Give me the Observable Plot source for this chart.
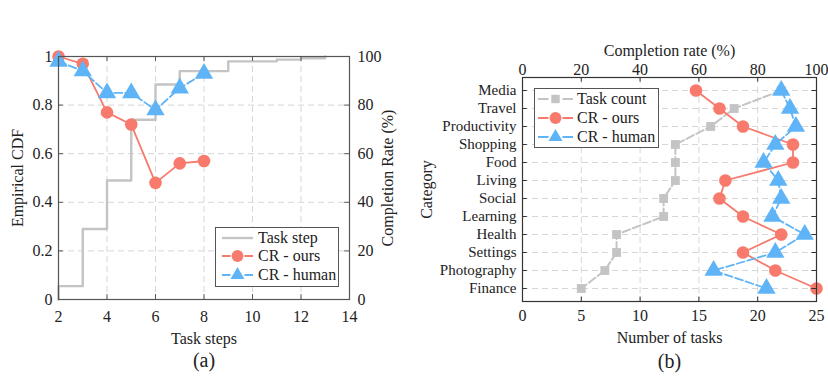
<!DOCTYPE html>
<html><head><meta charset="utf-8">
<script src="https://cdn.jsdelivr.net/npm/d3@7"></script>
<script src="https://cdn.jsdelivr.net/npm/@observablehq/plot@0.6"></script>
<style>
body{margin:0;background:#fff;}
#wrap{position:relative;width:828px;height:376px;overflow:hidden;background:#fff;font-family:"Liberation Serif","Times New Roman",serif;}
.panel{position:absolute;top:0;}
.overlay{position:absolute;left:0;top:0;pointer-events:none;}
</style></head><body><div id="wrap"></div>
<script>
// ---------- Panel (a) data ----------
const steps = [2, 3, 4, 5, 6, 7, 8];
const crOursSteps = [100, 97, 77, 72, 48, 56, 57];
const crHumanSteps = [98, 94, 85, 85, 78, 87, 93];
const cdfX = [2, 2, 3, 4, 5, 6, 7, 9, 11, 12, 13];
const cdfY = [0, 0.055, 0.29, 0.49, 0.74, 0.885, 0.94, 0.98, 0.987, 0.993, 1.0];
const xTicksA = [2, 4, 6, 8, 10, 12, 14];
const yTicksA = [0, 0.2, 0.4, 0.6, 0.8, 1];
const yTicksRightA = [0, 20, 40, 60, 80, 100];

// ---------- Panel (b) data ----------
const categories = ["Media", "Travel", "Productivity", "Shopping", "Food", "Living", "Social", "Learning", "Health", "Settings", "Photography", "Finance"];
const taskCount = [22, 18, 16, 13, 13, 13, 12, 12, 8, 8, 7, 5];
const crOurs = [59, 67, 75, 92, 92, 69, 67, 75, 88, 75, 86, 100];
const crHuman = [88, 91, 93, 86, 82, 87, 88, 85, 96, 86, 65, 83];
const countTicks = [0, 5, 10, 15, 20, 25];
const rateTicks = [0, 20, 40, 60, 80, 100];

const red = "#f77a6c", blue = "#5fb4f7", gray = "#c4c4c4";
const gridStyle = {stroke: "#d6d6d6", strokeOpacity: 1, strokeDasharray: "6,4", strokeWidth: 1};
const font = "Liberation Serif, Times New Roman, serif";
const lbl = {fontSize: 16, fill: "#222", textAnchor: "middle", lineAnchor: "middle"};

const wrap = document.getElementById("wrap");

// ---------- Panel (a) ----------
const stepData = cdfX.map((x, i) => ({x, y: cdfY[i]}));
const oursA = steps.map((s, i) => ({x: s, y: crOursSteps[i] / 100}));
const humanA = steps.map((s, i) => ({x: s, y: crHumanSteps[i] / 100}));

const left = Plot.plot({
  width: 410, height: 376,
  marginLeft: 58, marginRight: 61, marginTop: 56, marginBottom: 77,
  style: {fontFamily: font, fontSize: "16px", color: "#222", background: "transparent", overflow: "visible"},
  x: {domain: [2, 14]},
  y: {domain: [0, 1]},
  marks: [
    Plot.gridX(xTicksA.slice(1, -1), gridStyle),
    Plot.gridY(yTicksA.slice(1, -1), gridStyle),
    Plot.line(stepData, {x: "x", y: "y", curve: "step-after", stroke: gray, strokeWidth: 2.4}),
    Plot.line(oursA, {x: "x", y: "y", stroke: red, strokeWidth: 1.8}),
    Plot.dot(oursA, {x: "x", y: "y", r: 6.3, fill: red, symbol: "circle"}),
    Plot.line(humanA, {x: "x", y: "y", stroke: blue, strokeWidth: 1.8, strokeDasharray: "8,3"}),
    Plot.dot(humanA, {x: "x", y: "y", r: 6.8, fill: blue, symbol: "triangle"}),
    Plot.frame({stroke: "#555", strokeWidth: 1.2}),
    Plot.ruleX(xTicksA, {x: d => d, y1: 0, y2: 0.02, stroke: "#555"}),
    Plot.ruleX(xTicksA, {x: d => d, y1: 1, y2: 0.98, stroke: "#555"}),
    Plot.ruleY(yTicksA, {y: d => d, x1: 2, x2: 2.2, stroke: "#555"}),
    Plot.ruleY(yTicksA, {y: d => d, x1: 14, x2: 13.8, stroke: "#555"}),
    Plot.axisX(xTicksA, {tickSize: 0, tickPadding: 11, label: null, fill: "#222"}),
    Plot.axisY(yTicksA, {tickSize: 0, tickPadding: 6, label: null, tickFormat: d => String(d), fill: "#222"}),
    Plot.axisY(yTicksA, {anchor: "right", tickSize: 0, tickPadding: 8, label: null, tickFormat: (d, i) => String(yTicksRightA[i]), fill: "#222"}),
    Plot.text(["Task steps"], {...lbl, frameAnchor: "bottom", dy: 39}),
    Plot.text(["(a)"], {...lbl, frameAnchor: "bottom", dy: 61, fontSize: 20}),
    Plot.text(["Empirical CDF"], {...lbl, frameAnchor: "left", dx: -41, rotate: -90}),
    Plot.text(["Completion Rate (%)"], {...lbl, frameAnchor: "right", dx: 38, rotate: -90})
  ]
});
left.classList.add("panel");
left.style.left = "0px";
wrap.appendChild(left);

// ---------- Panel (b) ----------
const rightData = categories.map((c, i) => ({c, n: taskCount[i], ours: crOurs[i], human: crHuman[i]}));
const frameH = 376 - 77 - 75;
const right = Plot.plot({
  width: 418, height: 376,
  marginLeft: 112, marginRight: 12, marginTop: 77, marginBottom: 75,
  style: {fontFamily: font, fontSize: "16px", color: "#222", background: "transparent", overflow: "visible"},
  x: {domain: [0, 25]},
  y: {type: "point", domain: categories, padding: 0.5},
  marks: [
    Plot.gridX(countTicks.slice(1, -1), gridStyle),
    Plot.gridY(categories, gridStyle),
    Plot.line(rightData, {x: "n", y: "c", stroke: gray, strokeWidth: 2, strokeDasharray: "8,3"}),
    Plot.dot(rightData, {x: "n", y: "c", r: 5, fill: gray, symbol: "square"}),
    Plot.line(rightData, {x: d => d.ours / 4, y: "c", stroke: red, strokeWidth: 1.8}),
    Plot.dot(rightData, {x: d => d.ours / 4, y: "c", r: 6.3, fill: red, symbol: "circle"}),
    Plot.line(rightData, {x: d => d.human / 4, y: "c", stroke: blue, strokeWidth: 1.8, strokeDasharray: "8,3"}),
    Plot.dot(rightData, {x: d => d.human / 4, y: "c", r: 6.8, fill: blue, symbol: "triangle"}),
    Plot.frame({stroke: "#333", strokeWidth: 1.2}),
    Plot.ruleX(countTicks, {x: d => d, insetTop: frameH - 4.5, stroke: "#333"}),
    Plot.ruleX(countTicks, {x: d => d, insetBottom: frameH - 4.5, stroke: "#333"}),
    Plot.ruleY(categories, {y: d => d, x1: 0, x2: 0.4, stroke: "#333"}),
    Plot.ruleY(categories, {y: d => d, x1: 25, x2: 24.6, stroke: "#333"}),
    Plot.axisX(countTicks, {anchor: "bottom", tickSize: 0, tickPadding: 8, label: null, fill: "#222"}),
    Plot.axisX(countTicks, {anchor: "top", tickSize: 0, tickPadding: 3, label: null, tickFormat: (d, i) => String(rateTicks[i]), fill: "#222"}),
    Plot.axisY(categories, {anchor: "left", tickSize: 0, tickPadding: 6, label: null, fontSize: 15, fill: "#222"}),
    Plot.text(["Number of tasks"], {...lbl, frameAnchor: "bottom", dy: 36}),
    Plot.text(["(b)"], {...lbl, frameAnchor: "bottom", dy: 60, fontSize: 20}),
    Plot.text(["Completion rate (%)"], {...lbl, frameAnchor: "top", dy: -27}),
    Plot.text(["Category"], {...lbl, frameAnchor: "left", dx: -96, rotate: -90})
  ]
});
right.classList.add("panel");
right.style.left = "410px";
wrap.appendChild(right);

// ---------- Legends ----------
const ov = d3.select(wrap).append("svg").attr("class", "overlay").attr("width", 828).attr("height", 376)
  .style("font-family", font).style("font-size", "16px");

function legend(x, y, w, h, rowY, sx0, sx1, tx, items) {
  const g = ov.append("g");
  g.append("rect").attr("x", x + 0.5).attr("y", y + 0.5).attr("width", w).attr("height", h)
    .attr("fill", "#fff").attr("stroke", "#555").attr("stroke-width", 1);
  items.forEach((it, i) => {
    const cy = y + rowY[i];
    const cx = (sx0 + sx1) / 2;
    if (it.marker) {
      g.append("line").attr("x1", sx0).attr("x2", cx - 7).attr("y1", cy).attr("y2", cy).attr("stroke", it.color).attr("stroke-width", 2);
      g.append("line").attr("x1", cx + 7).attr("x2", sx1).attr("y1", cy).attr("y2", cy).attr("stroke", it.color).attr("stroke-width", 2);
      const sym = it.marker === "circle" ? d3.symbolCircle : it.marker === "triangle" ? d3.symbolTriangle : d3.symbolSquare;
      const size = it.marker === "circle" ? 110 : it.marker === "triangle" ? 85 : 70;
      g.append("path").attr("d", d3.symbol(sym, size)()).attr("transform", `translate(${cx},${cy})`).attr("fill", it.color);
    } else {
      g.append("line").attr("x1", sx0).attr("x2", sx1).attr("y1", cy).attr("y2", cy).attr("stroke", it.color).attr("stroke-width", 2.4);
    }
    g.append("text").attr("x", tx).attr("y", cy).attr("dy", "0.33em").attr("fill", "#222").text(it.label);
  });
}
legend(215, 227, 123, 59, [11, 29, 48], 222, 253, 258, [
  {label: "Task step", color: gray},
  {label: "CR - ours", color: red, marker: "circle"},
  {label: "CR - human", color: blue, marker: "triangle"}
]);
legend(534, 88, 124, 59, [11, 30, 49], 538, 573, 577, [
  {label: "Task count", color: gray, marker: "square"},
  {label: "CR - ours", color: red, marker: "circle"},
  {label: "CR - human", color: blue, marker: "triangle"}
]);
</script>
</body></html>
